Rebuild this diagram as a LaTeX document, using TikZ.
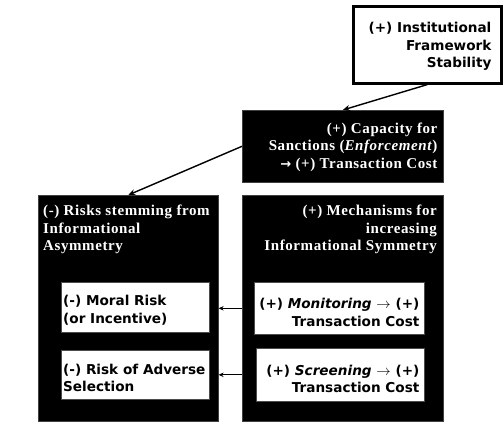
\documentclass[tikz,border=0pt]{standalone}
\usepackage{fontspec}
\setmainfont{Liberation Serif}[LetterSpace=4]
\newfontfamily\boxsans{DejaVu Sans}
\usetikzlibrary{arrows.meta,calc}
\tikzset{
  whitebox/.style={draw=black!70, fill=white, line width=0.6pt, inner sep=0pt},
  topbox/.style={draw=black, fill=white, line width=2.6pt, inner sep=0pt},
  blackbox/.style={draw=black!75, fill=black, line width=0.6pt, inner sep=0pt},
  sanstext/.style={inner sep=0pt, text=black, font=\boxsans\bfseries\fontsize{13.6}{17.5}\selectfont},
  seriftext/.style={inner sep=0pt, text=white, font=\bfseries\fontsize{15}{17.5}\selectfont},
  bigarr/.style={-{Stealth[length=7pt,width=6pt]}, line width=1.4pt},
  smallarr/.style={-{Stealth[length=5pt,width=4.5pt]}, line width=1pt}
}
\begin{document}
\begin{tikzpicture}[x=1pt,y=-1pt]
\useasboundingbox (0,0) rectangle (504,425);
% top box
\node[topbox, minimum width=148, minimum height=77, anchor=north west] (top) at (352,5) {};
\node[sanstext, align=right, anchor=east] (toptext) at ($(top.east)+(-11,2)$) {(+) Institutional\\Framework\\Stability};
% capacity box
\node[blackbox, minimum width=201, minimum height=72, anchor=north west] (cap) at (242,110) {};
\node[seriftext, align=right, anchor=east] (captext) at ($(cap.east)+(-6,1)$) {(+) Capacity for\\Sanctions (\textit{Enforcement})\\{\boxsans\bfseries\fontsize{13}{13}\selectfont →} (+) Transaction Cost};
% big black boxes
\node[blackbox, minimum width=180, minimum height=226, anchor=north west] (risks) at (38,195) {};
\node[seriftext, align=left, anchor=north west] (riskstext) at (43,205) {(-) Risks stemming from\\Informational\\Asymmetry};
\node[blackbox, minimum width=201, minimum height=226, anchor=north west] (mech) at (242,195) {};
\node[seriftext, align=right, anchor=north east] (mechtext) at (437,205) {(+) Mechanisms for\\increasing\\Informational Symmetry};
% inner white boxes
\node[whitebox, minimum width=148, minimum height=50, anchor=north west] (moral) at (61,282) {};
\node[sanstext, align=left, anchor=west] (moraltext) at ($(moral.west)+(2,3)$) {(-) Moral Risk\\(or Incentive)};
\node[whitebox, minimum width=148, minimum height=49, anchor=north west] (adverse) at (61,350) {};
\node[sanstext, align=left, anchor=west] (adversetext) at ($(adverse.west)+(2,3)$) {(-) Risk of Adverse\\Selection};
\node[whitebox, minimum width=170, minimum height=52, anchor=north west] (mon) at (254,282) {};
\node[sanstext, align=right, anchor=east] (montext) at ($(mon.east)+(-5,4)$) {(+) \textit{Monitoring} $\rightarrow$ (+)\\Transaction Cost};
\node[whitebox, minimum width=168, minimum height=53, anchor=north west] (scr) at (256,348) {};
\node[sanstext, align=right, anchor=east] (scrtext) at ($(scr.east)+(-5,4)$) {(+) \textit{Screening} $\rightarrow$ (+)\\Transaction Cost};
% connectors
\draw[bigarr] (top.south) -- (cap.north);
\draw[bigarr] (cap.west) -- (risks.north);
\draw[smallarr] (mech.west |- mon.center) -- (risks.east |- mon.center);
\draw[smallarr] (mech.west |- scr.center) -- (risks.east |- scr.center);
\end{tikzpicture}
\end{document}
